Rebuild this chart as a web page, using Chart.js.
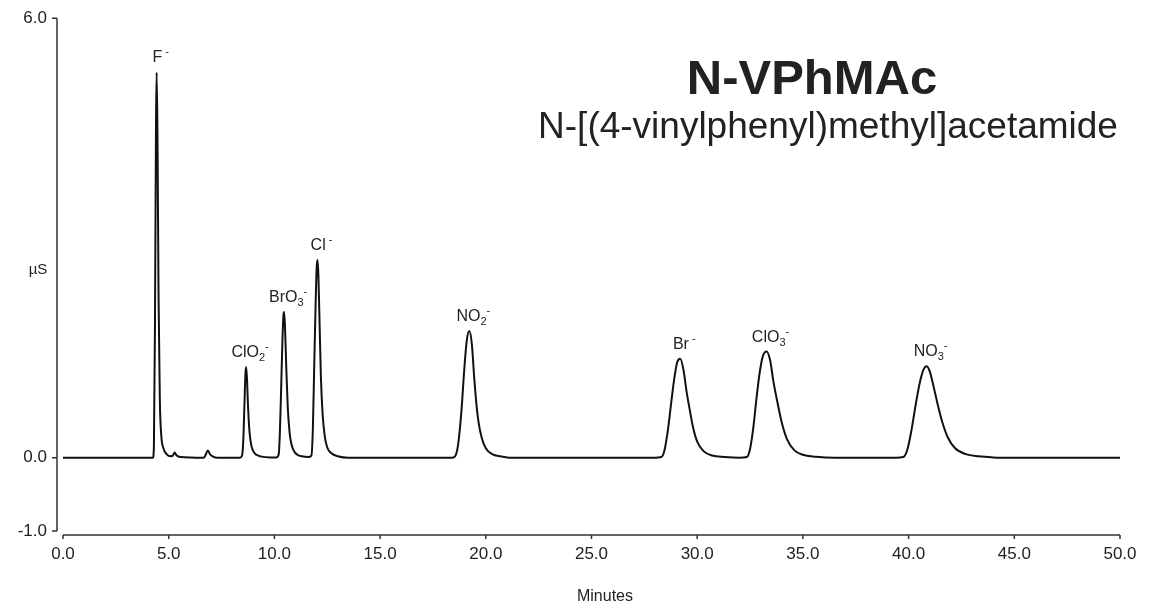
<!DOCTYPE html>
<html>
<head>
<meta charset="utf-8">
<script src="https://cdn.jsdelivr.net/npm/chart.js@4"></script>
<style>
  html, body { margin: 0; padding: 0; background: #fff; }
  #wrap { width: 1159px; height: 609px; }
</style>
</head>
<body>
<div id="wrap"><canvas id="grafico" width="1159" height="609"></canvas></div>
<script>
// retention time (min) and conductivity (µS)
const retentionTime = [
  0, 4.25, 4.30, 4.35, 4.40, 4.43, 4.47, 4.52, 4.58, 4.65, 4.75, 4.9, 5.1,
  5.2, 5.28, 5.38, 5.55, 6.65, 6.75, 6.85, 6.95, 7.1, 7.3,
  8.35, 8.47, 8.53, 8.58, 8.63, 8.66, 8.70, 8.75, 8.82, 8.9, 9.0, 9.15, 9.4, 9.8,
  10.1, 10.2, 10.26, 10.32, 10.38, 10.43, 10.46, 10.50, 10.56, 10.63, 10.72, 10.82, 10.95, 11.1, 11.3, 11.6,
  11.75, 11.82, 11.88, 11.95, 12.0, 12.04, 12.08, 12.14, 12.2, 12.28, 12.38, 12.5, 12.7, 13.0, 13.5,
  18.4, 18.55, 18.7, 18.85, 18.98, 19.1, 19.22, 19.34, 19.45, 19.55, 19.65, 19.8, 20.0, 20.3, 20.7, 21.2,
  28.0, 28.3, 28.45, 28.6, 28.75, 28.9, 29.05, 29.2, 29.35, 29.5, 29.65, 29.8, 30.0, 30.3, 30.7, 31.3, 32.0,
  32.35, 32.5, 32.65, 32.8, 32.95, 33.1, 33.28, 33.45, 33.6, 33.8, 34.0, 34.25, 34.6, 35.0, 35.6, 36.5,
  39.4, 39.75, 39.95, 40.15, 40.35, 40.55, 40.7, 40.85, 41.0, 41.2, 41.4, 41.6, 41.85, 42.2, 42.7, 43.3, 44.0, 45.0, 50.0
]
const conductivity = [
  0, 0, 0.15, 1.8, 4.6, 5.26, 4.4, 2.2, 0.8, 0.3, 0.13, 0.05, 0.02,
  0.03, 0.07, 0.03, 0.01, 0, 0.04, 0.1, 0.05, 0.015, 0,
  0, 0.03, 0.25, 0.7, 1.15, 1.24, 1.1, 0.72, 0.36, 0.18, 0.09, 0.04, 0.015, 0.005,
  0.005, 0.04, 0.35, 0.95, 1.6, 1.95, 1.99, 1.8, 1.25, 0.7, 0.34, 0.17, 0.08, 0.04, 0.02, 0.01,
  0.03, 0.4, 1.2, 2.1, 2.6, 2.70, 2.5, 1.8, 1.1, 0.6, 0.3, 0.14, 0.06, 0.02, 0,
  0, 0.02, 0.2, 0.65, 1.2, 1.6, 1.73, 1.55, 1.1, 0.75, 0.5, 0.28, 0.13, 0.05, 0.02, 0,
  0, 0.01, 0.1, 0.35, 0.7, 1.05, 1.3, 1.35, 1.2, 0.9, 0.65, 0.42, 0.22, 0.09, 0.03, 0.01, 0,
  0.01, 0.12, 0.4, 0.8, 1.15, 1.38, 1.45, 1.33, 1.05, 0.75, 0.48, 0.25, 0.1, 0.04, 0.015, 0,
  0, 0.01, 0.12, 0.4, 0.75, 1.05, 1.2, 1.25, 1.18, 0.95, 0.7, 0.48, 0.28, 0.13, 0.05, 0.02, 0.005, 0, 0
]

// peak names
const peakIon = ['F', 'ClO', 'BrO', 'Cl', 'NO', 'Br', 'ClO', 'NO']
const peakSub = ['', '2', '3', '', '2', '', '3', '3']
const peakTime = [4.43, 8.66, 10.46, 12.04, 19.22, 29.2, 33.28, 40.85]

const yTicks = [-1, 0, 6]
const titulo = 'N-VPhMAc'
const subtitulo = 'N-[(4-vinylphenyl)methyl]acetamide'
const eixoX = 'Minutes'
const eixoY = 'µS'

const FONTE = '"Liberation Sans", Arial, sans-serif'

const desenho = {
    id: 'desenho',
    afterDraw(chart) {
        const ctx = chart.ctx
        const x = chart.scales.x
        const y = chart.scales.y
        ctx.save()
        ctx.strokeStyle = '#333'
        ctx.lineWidth = 1.5

        // y axis, a bit left of the plot
        const ax = x.left - 6
        ctx.beginPath()
        ctx.moveTo(ax, y.getPixelForValue(6))
        ctx.lineTo(ax, y.getPixelForValue(-1))
        yTicks.forEach(t => {
            ctx.moveTo(ax - 5, y.getPixelForValue(t))
            ctx.lineTo(ax, y.getPixelForValue(t))
        })
        ctx.stroke()

        // x axis, a bit below the plot
        const ay = y.getPixelForValue(-1) + 4
        ctx.beginPath()
        ctx.moveTo(x.getPixelForValue(0), ay)
        ctx.lineTo(x.getPixelForValue(50), ay)
        for (let t = 0; t <= 50; t += 5) {
            ctx.moveTo(x.getPixelForValue(t), ay)
            ctx.lineTo(x.getPixelForValue(t), ay + 4)
        }
        ctx.stroke()

        ctx.fillStyle = '#222'
        ctx.textAlign = 'center'
        ctx.textBaseline = 'middle'
        ctx.font = '15px ' + FONTE
        ctx.fillText(eixoY, 38, 270)
        ctx.font = '16px ' + FONTE
        ctx.fillText(eixoX, 605, 597)

        ctx.font = 'bold 49px ' + FONTE
        ctx.fillText(titulo, 812, 80)
        ctx.font = '37px ' + FONTE
        ctx.fillText(subtitulo, 828, 128)

        // peak labels
        ctx.textBaseline = 'alphabetic'
        peakTime.forEach((t, i) => {
            let topo = 0
            retentionTime.forEach((rt, j) => {
                if (Math.abs(rt - t) < 0.3 && conductivity[j] > topo) topo = conductivity[j]
            })
            const px = x.getPixelForValue(t)
            const py = y.getPixelForValue(topo) - 10
            ctx.font = '16px ' + FONTE
            const wMain = ctx.measureText(peakIon[i]).width
            ctx.font = '11px ' + FONTE
            const wSub = peakSub[i] ? ctx.measureText(peakSub[i]).width : 0
            const sup = peakSub[i] ? '-' : ' -'
            const wSup = ctx.measureText(sup).width
            let sx = px + 4 - (wMain + wSub + wSup) / 2
            ctx.textAlign = 'left'
            ctx.font = '16px ' + FONTE
            ctx.fillText(peakIon[i], sx, py)
            sx += wMain
            ctx.font = '11px ' + FONTE
            if (peakSub[i]) {
                ctx.fillText(peakSub[i], sx, py + 4)
                sx += wSub
            }
            ctx.fillText(sup, sx, py - 7)
        })
        ctx.restore()
    }
}

const ctx = document.getElementById('grafico')

new Chart(ctx, {
    type: 'line',
    data: {
        datasets: [{
            data: retentionTime.map((t, i) => ({ x: t, y: conductivity[i] })),
            borderColor: '#111',
            borderWidth: 2,
            pointRadius: 0,
            cubicInterpolationMode: 'monotone',
            fill: false
        }]
    },
    options: {
        responsive: false,
        animation: false,
        layout: { padding: { top: 1, right: 39, left: 0, bottom: 0 } },
        plugins: {
            legend: { display: false },
            tooltip: { enabled: false }
        },
        scales: {
            x: {
                type: 'linear',
                min: 0,
                max: 50,
                grid: { display: false },
                border: { display: false },
                afterFit: s => { s.height = 78 },
                ticks: {
                    stepSize: 5,
                    padding: 5,
                    maxRotation: 0,
                    color: '#222',
                    font: { family: FONTE, size: 17 },
                    callback: v => v.toFixed(1)
                }
            },
            y: {
                min: -1,
                max: 6,
                grid: { display: false },
                border: { display: false },
                afterFit: s => { s.width = 63 },
                afterBuildTicks: s => { s.ticks = yTicks.map(v => ({ value: v })) },
                ticks: {
                    padding: 8,
                    color: '#222',
                    font: { family: FONTE, size: 17 },
                    callback: v => v.toFixed(1)
                }
            }
        }
    },
    plugins: [desenho]
})
</script>
</body>
</html>
